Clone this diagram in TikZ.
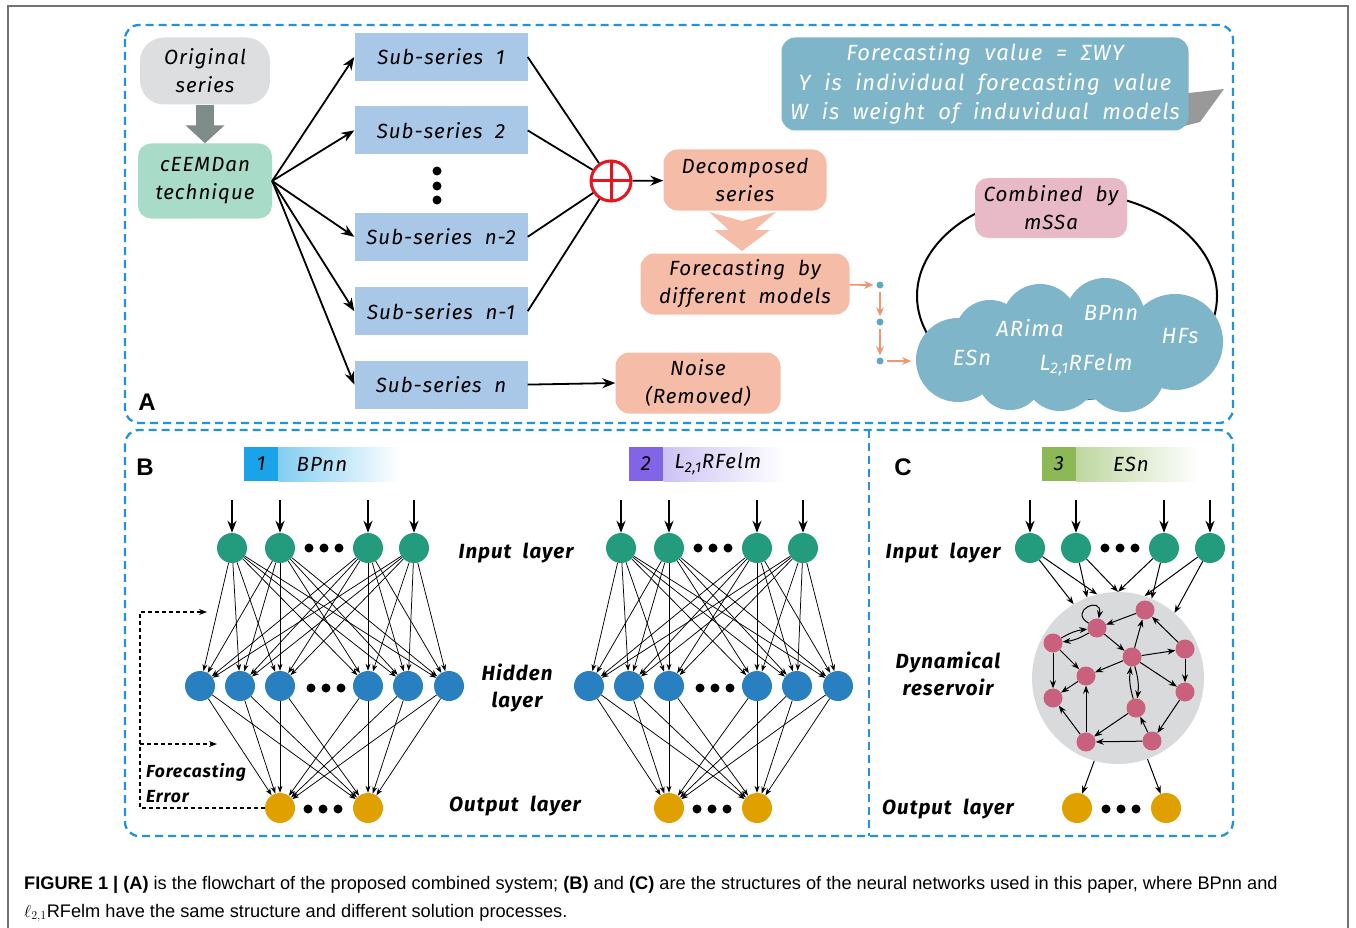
\documentclass[tikz,border=0pt]{standalone}
\usepackage{fontspec}
\newfontfamily\handfont[LetterSpace=5.0, WordSpace=2.0]{Fira Sans}
\newfontfamily\capfont{Liberation Sans}
\usetikzlibrary{positioning, arrows.meta}

\definecolor{dashblue}{RGB}{33,146,222}
\definecolor{origgray}{RGB}{220,222,224}
\definecolor{arrowgray}{RGB}{128,140,138}
\definecolor{mint}{RGB}{168,220,200}
\definecolor{subblue}{RGB}{169,200,232}
\definecolor{salmon}{RGB}{245,188,168}
\definecolor{salarrow}{RGB}{240,150,115}
\definecolor{dotteal}{RGB}{95,168,195}
\definecolor{plusred}{RGB}{232,20,30}
\definecolor{formteal}{RGB}{126,181,201}
\definecolor{combpink}{RGB}{232,185,198}
\definecolor{ingreen}{RGB}{35,155,125}
\definecolor{hidblue}{RGB}{40,128,192}
\definecolor{outorange}{RGB}{224,160,0}
\definecolor{respink}{RGB}{200,96,126}
\definecolor{resgray}{RGB}{216,218,220}
\definecolor{bpsq}{RGB}{26,163,232}
\definecolor{bpgrad}{RGB}{130,205,242}
\definecolor{elsq}{RGB}{130,100,230}
\definecolor{elgrad}{RGB}{205,195,245}
\definecolor{essq}{RGB}{140,185,85}
\definecolor{esgrad}{RGB}{190,215,160}

\begin{document}
\begin{tikzpicture}[x=1pt, y=-1pt, >={Stealth[length=13pt, width=10pt]},
    hand/.style={font=\handfont\itshape\fontsize{20.5}{28}\selectfont},
    boldhand/.style={font=\handfont\bfseries\itshape\fontsize{20.5}{27}\selectfont},
    stepbox/.style={hand, align=center, inner sep=0pt},
    subbox/.style={stepbox, fill=subblue, minimum width=173pt, minimum height=48pt},
    salbox/.style={stepbox, fill=salmon, rounded corners=14pt, minimum height=61pt},
    flow/.style={->, line width=1.8pt},
    panelbox/.style={draw=dashblue, line width=2.3pt, dash pattern=on 8pt off 5pt, rounded corners=14pt},
    panellab/.style={font=\capfont\bfseries\fontsize{24}{24}\selectfont, inner sep=0pt},
    neuron/.style={circle, inner sep=0pt, minimum size=30pt},
    innode/.style={neuron, fill=ingreen},
    hidnode/.style={neuron, fill=hidblue},
    outnode/.style={neuron, fill=outorange},
    resnode/.style={circle, inner sep=0pt, minimum size=19pt, fill=respink},
    link/.style={-{Stealth[length=7pt, width=5pt]}, line width=0.75pt},
    rlink/.style={-{Stealth[length=8pt, width=6pt]}, line width=1pt},
    inarrow/.style={-{Stealth[length=12pt, width=9pt]}, line width=1.7pt},
    sarrow/.style={-{Stealth[length=9pt, width=8pt]}, line width=1.8pt, draw=salarrow},
    fbline/.style={-{Stealth[length=8pt, width=6pt]}, line width=1.1pt, dash pattern=on 4pt off 3pt},
    tdot/.style={circle, inner sep=0pt, minimum size=7pt, fill=dotteal},
    numbox/.style={hand, minimum width=34pt, minimum height=34pt, inner sep=0pt},
    titlebar/.style={minimum width=122pt, minimum height=34pt, inner sep=0pt, right color=white},
    layerlab/.style={boldhand, align=center, inner sep=0pt},
    cloudtxt/.style={hand, font=\handfont\itshape\fontsize{22}{28}\selectfont, text=white, inner sep=0pt}]

  \useasboundingbox (0,0) rectangle (1356,928);
  \fill[white] (0,0) rectangle (1356,928);
  \draw[black!55, line width=1.3pt] (8,928) -- (8,6) -- (1348,6) -- (1348,928);

  % panel A: decomposition and combination
  \node[stepbox, fill=origgray, rounded corners=24pt, minimum width=130pt, minimum height=67pt] (orig) at (205,71) {Original\\series};
  \node[stepbox, fill=mint, rounded corners=13pt, minimum width=134pt, minimum height=75pt] (ceem) at (205,181) {cEEMDan\\technique};
  \draw[line width=18pt, draw=arrowgray, -{Triangle[length=18pt, width=38pt]}] (orig) -- (ceem);

  \node[subbox] (s1) at (441,57) {Sub-series 1};
  \node[subbox, below=25pt of s1] (s2) {Sub-series 2};
  \node[subbox, below=58pt of s2] (s3) {Sub-series n-2};
  \node[subbox, below=26pt of s3] (s4) {Sub-series n-1};
  \node[subbox, below=25pt of s4] (s5) {Sub-series n};
  \foreach \y in {171,186,200} \fill (437,\y) circle (4.5);

  \node[circle, draw=plusred, line width=3pt, fill=white, minimum size=40pt, inner sep=0pt,
    path picture={\draw[plusred, line width=3pt] (path picture bounding box.north) -- (path picture bounding box.south)
      (path picture bounding box.west) -- (path picture bounding box.east);}] (sum) at (611,181) {};

  \node[salbox, minimum width=163pt] (dec) at (745,180) {Decomposed\\series};
  \node[salbox, minimum width=209pt] (fore) at (745,284) {Forecasting by\\different models};
  \node[salbox, minimum width=165pt] (noise) at (698,383) {Noise\\(Removed)};

  \foreach \s in {1,...,5} {
    \draw[flow] (ceem.east) -- (s\s.west);
  }
  \foreach \s in {1,...,4} {
    \draw[line width=1.8pt] (s\s.east) -- (sum);
  }
  \draw[flow] (sum) -- (dec);
  \draw[flow] (s5.east) -- (noise.west);
  \fill[salmon] (709,212) -- (742,221) -- (776,212) -- (755,230) -- (770,230) -- (742,251) -- (714,230) -- (729,230) -- cycle;

  \node[tdot] (d1) at (880,285) {};
  \node[tdot] (d2) at (880,322) {};
  \node[tdot] (d3) at (880,361) {};
  \coordinate (cl) at (911,361);
  \draw[sarrow, shorten >=3pt] (fore) -- (d1);
  \draw[sarrow, shorten <=3pt, shorten >=2pt] (d1) -- (d2);
  \draw[sarrow, shorten <=3pt, shorten >=2pt] (d2) -- (d3);
  \draw[sarrow, shorten <=3pt] (d3) -- (cl);

  \fill[black!40] (1180,94) -- (1224,89) -- (1200,122) -- (1180,127) -- cycle;
  \node[stepbox, fill=formteal, text=white, rounded corners=14pt, minimum width=407pt, minimum height=93pt,
    font=\handfont\itshape\fontsize{22}{29.5}\selectfont] (form) at (985,84)
    {Forecasting value = ΣWY\\Y is individual forecasting value\\W is weight of induvidual models};

  \draw[line width=2pt] (1067,296) ellipse [x radius=150, y radius=104];
  \node[stepbox, fill=combpink, rounded corners=13pt, minimum width=152pt, minimum height=60pt] (comb) at (1051,208) {Combined by\\mSSa};
  \fill[formteal] (958,360) circle (42) (990,335) circle (35) (1040,322) circle (38) (1105,318) circle (40)
    (1175,342) circle (48) (1125,372) circle (40) (1010,378) circle (32) (1060,375) circle (36)
    (1075,355) ellipse [x radius=120, y radius=45];
  \node[cloudtxt] (arima) at (1030,328) {ARima};
  \node[cloudtxt] (bpnn) at (1111,313) {BPnn};
  \node[cloudtxt] (hfs) at (1180,336) {HFs};
  \node[cloudtxt] (esn) at (972,358) {ESn};
  \node[cloudtxt] (relm) at (1086,365) {L\textsubscript{2,1}RFelm};

  % panel frames
  \draw[panelbox] (125,25) rectangle (1233,423);
  \draw[panelbox] (125,430) rectangle (1233,836);
  \draw[panelbox, rounded corners=0pt] (869,430) -- (869,836);
  \node[panellab] (labA) at (147,402) {A};
  \node[panellab] (labB) at (145,467) {B};
  \node[panellab] (labC) at (903,467) {C};

  % panel B: BPnn and L21RFelm
  \node[numbox, fill=bpsq] (n1) at (261,464) {1};
  \node[titlebar, left color=bpgrad, right=0pt of n1] (g1) {};
  \node[hand, inner sep=0pt] (t1) at (322,464) {BPnn};
  \node[numbox, fill=elsq] (n2) at (646,464) {2};
  \node[titlebar, left color=elgrad, right=0pt of n2] (g2) {};
  \node[hand, inner sep=0pt] (t2) at (718,464) {L\textsubscript{2,1}RFelm};

  \foreach \net/\dx in {p/0, q/389} {
    \foreach \x [count=\k] in {232,280,368,414} {
      \node[innode] (\net i\k) at (\x+\dx,548) {};
      \coordinate (\net t\k) at (\x+\dx,500);
      \draw[inarrow] (\net t\k) -- (\net i\k);
    }
    \foreach \x [count=\k] in {200,240,280,368,408,449}
      \node[hidnode] (\net h\k) at (\x+\dx,686) {};
    \foreach \x [count=\k] in {280,368}
      \node[outnode] (\net o\k) at (\x+\dx,808) {};
    \foreach \d in {-15,0,15} {
      \fill (324+\dx+\d,548) circle (4.5);
      \fill (326+\dx+\d,688) circle (4.5);
      \fill (323+\dx+\d,809) circle (4.5);
    }
    \foreach \a in {1,...,4}
      \foreach \b in {1,...,6}
        \draw[link] (\net i\a) -- (\net h\b);
    \foreach \a in {1,...,6}
      \foreach \b in {1,2}
        \draw[link] (\net h\a) -- (\net o\b);
  }

  \node[layerlab] (lin) at (516,553) {Input layer};
  \node[layerlab] (lhid) at (517,688) {Hidden\\layer};
  \node[layerlab] (lout) at (515,806) {Output layer};

  \coordinate (fbt) at (207,612);
  \coordinate (fbm) at (217,744);
  \draw[fbline] (po1) -- (140,808) -- (140,612) -- (fbt);
  \draw[fbline] (140,744) -- (fbm);
  \node[boldhand, font=\handfont\bfseries\itshape\fontsize{17.5}{20}\selectfont, anchor=west, inner sep=0pt] (fe1) at (146,772) {Forecasting};
  \node[boldhand, font=\handfont\bfseries\itshape\fontsize{17.5}{20}\selectfont, anchor=west, inner sep=0pt] (fe2) at (146,797) {Error};

  % panel C: ESn
  \node[numbox, fill=essq] (n3) at (1059,464) {3};
  \node[titlebar, left color=esgrad, right=0pt of n3] (g3) {};
  \node[hand, inner sep=0pt] (t3) at (1131,464) {ESn};

  \node[circle, fill=resgray, minimum size=172pt, inner sep=0pt] (res) at (1118,678) {};
  \foreach \x [count=\k] in {1030,1076,1164,1210} {
    \node[innode] (ci\k) at (\x,548) {};
    \coordinate (ct\k) at (\x,500);
    \draw[inarrow] (ct\k) -- (ci\k);
  }
  \foreach \x [count=\k] in {1077,1166}
    \node[outnode] (co\k) at (\x,808) {};
  \foreach \d in {-15,0,15} {
    \fill (1120+\d,548) circle (4.5);
    \fill (1121+\d,809) circle (4.5);
  }
  \foreach \a/\ang in {1/121, 1/104, 2/111, 2/90, 3/90, 3/67, 4/72, 4/49}
    \draw[rlink] (ci\a) -- (res.\ang);
  \draw[rlink] (res.254) -- (co1);
  \draw[rlink] (res.290) -- (co2);

  \foreach \x/\y [count=\k] in {1145/610, 1097/628, 1053/643, 1185/649, 1132/657, 1086/676,
      1053/698, 1185/692, 1136/708, 1086/742, 1152/741}
    \node[resnode] (r\k) at (\x,\y) {};
  \foreach \a/\b in {1/2, 2/5, 3/6, 3/7, 6/7, 5/6, 5/1, 5/4, 4/1, 4/8, 5/8, 8/11, 11/9, 9/10, 11/10, 10/6, 10/7}
    \draw[rlink] (r\a) -- (r\b);
  \foreach \a/\b in {2/3, 3/2, 5/9, 9/5}
    \draw[rlink] (r\a) to[bend left=12] (r\b);
  \draw[rlink] (r2) to[out=150, in=80, distance=24pt] (r2);

  \node[layerlab] (cin) at (943,553) {Input layer};
  \node[layerlab] (cres) at (948,674) {Dynamical\\reservoir};
  \node[layerlab] (cout) at (948,809) {Output layer};

  % caption
  \node[anchor=west, inner sep=0pt, font=\capfont\fontsize{18.2}{20}\selectfont] (cap1) at (24,885)
    {\textbf{FIGURE 1 | (A)} is the flowchart of the proposed combined system; \textbf{(B)} and \textbf{(C)} are the structures of the neural networks used in this paper, where BPnn and};
  \node[anchor=west, inner sep=0pt, font=\capfont\fontsize{18.2}{20}\selectfont] (cap2) at (24,913)
    {$\ell_{2,1}$RFelm have the same structure and different solution processes.};
\end{tikzpicture}
\end{document}
